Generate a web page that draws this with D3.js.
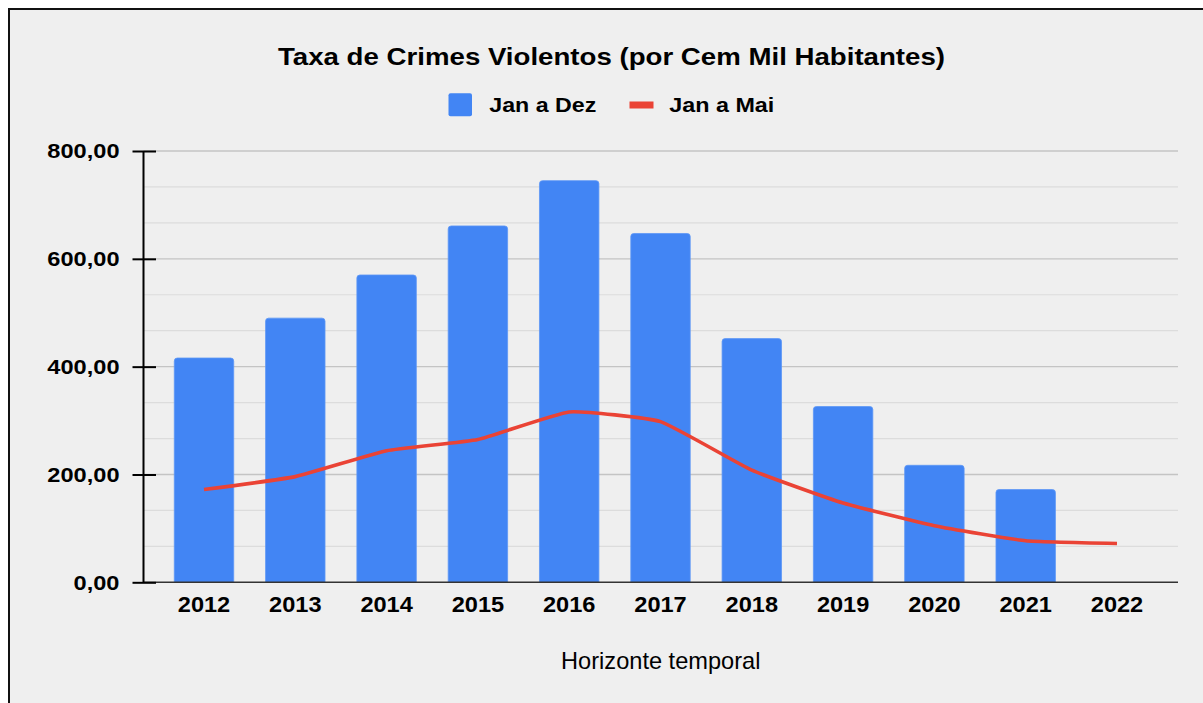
<!DOCTYPE html>
<html>
<head>
<meta charset="utf-8">
<script src="https://cdn.jsdelivr.net/npm/d3@7"></script>
<style>
  html, body { margin: 0; padding: 0; background: #ffffff; }
  svg { display: block; }
  text { font-family: "Liberation Sans", Arial, sans-serif; fill: #000; }
</style>
</head>
<body>
<svg id="chart" width="1203" height="703"></svg>
<script>
// ---- data ----
const years = ["2012","2013","2014","2015","2016","2017","2018","2019","2020","2021","2022"];
const janDez = [416, 490, 570, 661, 745, 647, 452, 326, 217, 172, null];
const janMai = [172, 196, 244, 265, 316, 298, 208, 147, 105, 77, 72];
const yMajorTicks = [0, 200, 400, 600, 800];
const titleText = "Taxa de Crimes Violentos (por Cem Mil Habitantes)";
const seriesNames = ["Jan a Dez", "Jan a Mai"];
const xAxisTitle = "Horizonte temporal";

const blue = "#4285f4", red = "#ea4335";

const svg = d3.select("#chart");

// frame
svg.append("rect").attr("x", 9).attr("y", 9).attr("width", 1300).attr("height", 800)
  .attr("fill", "#efefef").attr("stroke", "#111").attr("stroke-width", 2);

const plotL = 143.5, plotR = 1178, plotT = 151, plotB = 582.3;

const y = d3.scaleLinear().domain([0, 800]).range([plotB, plotT]);
const x = d3.scaleBand().domain(years).range([plotL + 14.85, plotR - 15.35])
  .paddingInner(0.349).paddingOuter(0.1745);

const locale = d3.formatLocale({decimal: ",", thousands: ".", grouping: [3], currency: ["R$", ""]});
const fmt = locale.format(".2f");

function stretch(sel, factor) {
  sel.each(function() {
    const w = this.getComputedTextLength();
    d3.select(this).attr("textLength", w * factor).attr("lengthAdjust", "spacingAndGlyphs");
  });
}

// gridlines (minor + major)
const minorTicks = d3.range(0, 801, 200 / 3).filter(v => !yMajorTicks.some(m => Math.abs(m - v) < 1));
svg.append("g").selectAll("line").data(minorTicks).join("line")
  .attr("x1", plotL).attr("x2", plotR).attr("y1", d => y(d)).attr("y2", d => y(d))
  .attr("stroke", "#dcdcdc").attr("stroke-width", 1.2);
svg.append("g").selectAll("line").data(yMajorTicks.filter(v => v > 0)).join("line")
  .attr("x1", plotL).attr("x2", plotR).attr("y1", d => y(d)).attr("y2", d => y(d))
  .attr("stroke", "#c4c4c4").attr("stroke-width", 1.3);

// bars with rounded top corners
const r = 3;
svg.append("g").selectAll("path").data(years.map((yr, i) => ({yr, v: janDez[i]})).filter(d => d.v != null))
  .join("path")
  .attr("d", d => {
    const x0 = x(d.yr), w = x.bandwidth(), top = y(d.v), bot = y(0);
    const p = d3.path();
    p.moveTo(x0, bot);
    p.lineTo(x0, top + r);
    p.quadraticCurveTo(x0, top, x0 + r, top);
    p.lineTo(x0 + w - r, top);
    p.quadraticCurveTo(x0 + w, top, x0 + w, top + r);
    p.lineTo(x0 + w, bot);
    p.closePath();
    return p.toString();
  })
  .attr("fill", blue).attr("stroke", "#5d97f6").attr("stroke-width", 0.8);

// baseline
svg.append("line").attr("x1", plotL).attr("x2", plotR).attr("y1", y(0)).attr("y2", y(0))
  .attr("stroke", "#333").attr("stroke-width", 1.6);

// line series
const line = d3.line()
  .x((d, i) => x(years[i]) + x.bandwidth() / 2)
  .y(d => y(d))
  .curve(d3.curveCardinal.tension(0.6));
svg.append("path").datum(janMai).attr("d", line)
  .attr("fill", "none").attr("stroke", red).attr("stroke-width", 3.6)
  .attr("stroke-linejoin", "round");

// y axis
const yAxis = d3.axisLeft(y).tickValues(yMajorTicks).tickFormat(fmt)
  .tickSizeInner(11).tickSizeOuter(0).tickPadding(13);
const gy = svg.append("g").attr("transform", `translate(${plotL},0)`).call(yAxis);
gy.select(".domain").attr("stroke", "#000").attr("stroke-width", 2)
  .attr("d", `M0,${plotT}V${plotB}`);
gy.selectAll(".tick line").attr("stroke", "#000").attr("stroke-width", 2).attr("x2", -11).attr("x1", 12.5);
gy.selectAll(".tick text").attr("font-size", 20).attr("font-weight", "bold")
  .attr("dy", "0.335em").attr("fill", "#000").call(stretch, 1.18);
gy.attr("font-family", null);

// x axis
const xAxis = d3.axisBottom(x).tickSize(0).tickPadding(0);
const gx = svg.append("g").attr("transform", `translate(0,${plotB})`).call(xAxis);
gx.select(".domain").remove();
gx.attr("font-family", null);
gx.selectAll(".tick text").attr("y", 30).attr("dy", 0).attr("font-size", 21.5)
  .attr("font-weight", "bold").attr("fill", "#000").call(stretch, 1.096);

// x axis title
svg.append("text").attr("x", (plotL + plotR) / 2).attr("y", 669.3)
  .attr("text-anchor", "middle").attr("font-size", 23.6).attr("fill", "#222")
  .text(xAxisTitle);

// title
svg.append("text").attr("x", 611.5).attr("y", 65).attr("text-anchor", "middle")
  .attr("font-size", 24.2).attr("font-weight", "bold").text(titleText)
  .attr("textLength", 667).attr("lengthAdjust", "spacingAndGlyphs");

// legend
const lg = svg.append("g");
lg.append("rect").attr("x", 448.5).attr("y", 93.3).attr("width", 23.5).attr("height", 23)
  .attr("rx", 2).attr("fill", blue);
lg.append("text").attr("x", 489.3).attr("y", 111.7).attr("font-size", 21).attr("font-weight", "bold")
  .text(seriesNames[0]).attr("textLength", 107).attr("lengthAdjust", "spacingAndGlyphs");
lg.append("rect").attr("x", 629.5).attr("y", 101.5).attr("width", 24).attr("height", 7)
  .attr("fill", red);
lg.append("text").attr("x", 669.3).attr("y", 111.7).attr("font-size", 21).attr("font-weight", "bold")
  .text(seriesNames[1]).attr("textLength", 105).attr("lengthAdjust", "spacingAndGlyphs");
</script>
</body>
</html>
